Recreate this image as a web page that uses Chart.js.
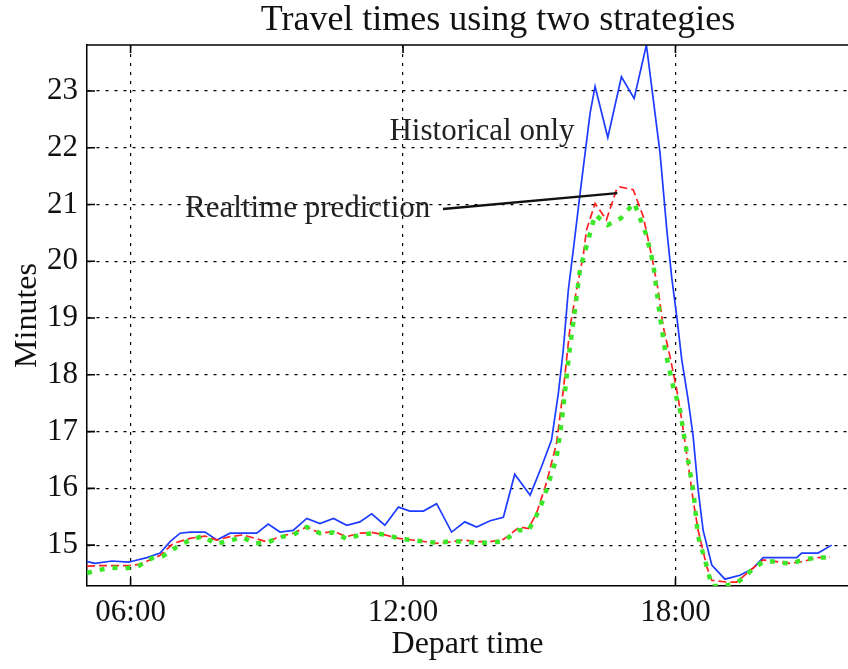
<!DOCTYPE html>
<html>
<head>
<meta charset="utf-8">
<title>Travel times using two strategies</title>
<script src="https://cdn.jsdelivr.net/npm/chart.js@4.4.1/dist/chart.umd.min.js"></script>
<style>
    html, body { margin: 0; padding: 0; background: #fff; }
    #travelChart { display: block; }
</style>
</head>
<body>
<canvas id="travelChart" width="848" height="669"></canvas>
<script>
// depart time in hours of the day, travel time in minutes
var historicalHours = [5.04, 5.22, 5.59, 5.95, 6.06, 6.36, 6.65, 6.87, 7.09, 7.31, 7.64, 7.90, 8.19, 8.78, 9.03, 9.29, 9.58, 9.88, 10.17, 10.47, 10.76, 11.05, 11.31, 11.60, 11.90, 12.15, 12.45, 12.74, 13.07, 13.36, 13.62, 13.92, 14.21, 14.46, 14.80, 15.05, 15.27, 15.42, 15.53, 15.64, 15.75, 15.90, 16.12, 16.23, 16.51, 16.81, 17.09, 17.36, 17.66, 17.81, 17.92, 18.03, 18.14, 18.28, 18.39, 18.50, 18.61, 18.80, 19.09, 19.42, 19.71, 19.93, 20.67, 20.78, 21.14, 21.44];
var historicalMinutes = [14.71, 14.68, 14.72, 14.70, 14.72, 14.78, 14.86, 15.06, 15.21, 15.23, 15.23, 15.09, 15.21, 15.21, 15.37, 15.23, 15.26, 15.47, 15.38, 15.47, 15.35, 15.41, 15.55, 15.35, 15.67, 15.60, 15.60, 15.73, 15.23, 15.41, 15.32, 15.43, 15.49, 16.25, 15.88, 16.38, 16.85, 17.67, 18.44, 19.49, 20.20, 21.20, 22.61, 23.08, 22.18, 23.25, 22.87, 23.81, 21.91, 20.55, 19.70, 19.02, 18.26, 17.56, 16.91, 15.97, 15.26, 14.65, 14.40, 14.47, 14.59, 14.78, 14.78, 14.86, 14.86, 15.00];

var realtimeHours = [5.04, 5.33, 5.95, 6.20, 6.65, 6.94, 7.31, 7.64, 7.90, 8.19, 8.48, 9.00, 9.29, 9.58, 9.88, 10.17, 10.47, 10.76, 11.05, 11.34, 11.60, 11.90, 12.20, 12.50, 12.74, 13.07, 13.33, 13.62, 13.92, 14.21, 14.57, 14.76, 14.94, 15.16, 15.38, 15.53, 15.68, 15.82, 15.97, 16.04, 16.23, 16.48, 16.70, 16.78, 17.07, 17.29, 17.37, 17.48, 17.62, 17.73, 17.88, 18.03, 18.14, 18.32, 18.39, 18.50, 18.69, 18.80, 19.13, 19.35, 19.64, 19.93, 20.23, 20.52, 20.81, 21.11, 21.40];
var realtimeMinutes = [14.63, 14.64, 14.64, 14.66, 14.82, 15.03, 15.12, 15.16, 15.09, 15.15, 15.18, 15.06, 15.15, 15.21, 15.32, 15.21, 15.24, 15.15, 15.21, 15.22, 15.18, 15.12, 15.09, 15.06, 15.03, 15.06, 15.09, 15.06, 15.06, 15.10, 15.32, 15.29, 15.56, 16.10, 16.79, 17.73, 18.85, 19.49, 20.10, 20.55, 21.02, 20.73, 21.26, 21.31, 21.26, 20.79, 20.49, 20.08, 19.49, 18.85, 18.32, 17.73, 17.20, 16.20, 15.79, 15.26, 14.62, 14.38, 14.35, 14.35, 14.55, 14.74, 14.71, 14.68, 14.71, 14.78, 14.79];

var bestHours = [5.04, 5.29, 5.59, 5.88, 6.17, 6.47, 6.72, 7.02, 7.31, 7.60, 7.86, 8.15, 8.45, 8.74, 9.00, 9.29, 9.58, 9.88, 10.17, 10.47, 10.76, 11.05, 11.34, 11.64, 11.93, 12.20, 12.50, 12.77, 13.07, 13.33, 13.62, 13.92, 14.21, 14.54, 14.76, 14.91, 15.09, 15.38, 15.49, 15.66, 15.79, 15.90, 16.04, 16.23, 16.51, 16.80, 17.09, 17.36, 17.51, 17.66, 17.77, 17.95, 18.10, 18.25, 18.39, 18.50, 18.65, 18.80, 19.09, 19.38, 19.68, 19.93, 20.23, 20.52, 20.81, 21.11, 21.40];
var bestMinutes = [14.51, 14.56, 14.60, 14.59, 14.63, 14.77, 14.81, 14.97, 15.09, 15.16, 15.02, 15.07, 15.14, 15.03, 15.04, 15.14, 15.18, 15.32, 15.21, 15.22, 15.11, 15.18, 15.21, 15.18, 15.11, 15.09, 15.06, 15.04, 15.07, 15.06, 15.04, 15.04, 15.07, 15.26, 15.26, 15.47, 15.80, 16.53, 17.14, 18.38, 19.17, 19.87, 20.26, 20.82, 20.64, 20.76, 21.03, 20.46, 19.96, 19.02, 18.44, 17.79, 17.38, 16.62, 15.97, 15.15, 14.74, 14.28, 14.28, 14.35, 14.56, 14.71, 14.71, 14.67, 14.74, 14.78, 14.78];

var hourTicks = [6, 12, 18];
var minuteTicks = [15, 16, 17, 18, 19, 20, 21, 22, 23];

var serif = "'Liberation Serif', 'Times New Roman', serif";
var ink = "#111";

function toPoints(hours, minutes) {
    return hours.map((h, i) => ({ x: h, y: minutes[i] }));
}

function clock(value) {
    var h = Math.floor(value);
    var m = Math.round((value - h) * 60);
    return String(h).padStart(2, "0") + ":" + String(m).padStart(2, "0");
}

// title, top frame line, inward tick marks and the two text labels
const figureExtras = {
    id: "figureExtras",
    afterDraw(chart) {
        const c = chart.ctx;
        const area = chart.chartArea;
        const xs = chart.scales.x;
        const ys = chart.scales.y;

        c.save();
        c.strokeStyle = "#000";
        c.lineWidth = 1.5;
        c.beginPath();
        c.moveTo(area.left, area.top);
        c.lineTo(area.right, area.top);
        c.stroke();

        c.lineWidth = 1.6;
        c.beginPath();
        minuteTicks.forEach((v) => {
            const y = ys.getPixelForValue(v);
            c.moveTo(area.left, y);
            c.lineTo(area.left + 8, y);
        });
        hourTicks.forEach((v) => {
            const x = xs.getPixelForValue(v);
            c.moveTo(x, area.bottom);
            c.lineTo(x, area.bottom - 8);
            c.moveTo(x, area.top);
            c.lineTo(x, area.top + 8);
        });
        c.stroke();

        // pointer from the label to the realtime curve
        c.lineWidth = 2.4;
        c.strokeStyle = "#111";
        c.beginPath();
        c.moveTo(xs.getPixelForValue(12.88), ys.getPixelForValue(20.92));
        c.lineTo(xs.getPixelForValue(16.72), ys.getPixelForValue(21.20));
        c.stroke();

        c.fillStyle = "#222";
        c.font = "31px " + serif;
        c.textAlign = "center";
        c.textBaseline = "middle";
        c.fillText("Historical only", xs.getPixelForValue(13.74), ys.getPixelForValue(22.28));
        c.fillText("Realtime prediction", xs.getPixelForValue(9.90), ys.getPixelForValue(20.92));

        c.fillStyle = ink;
        c.font = "36px " + serif;
        c.textBaseline = "alphabetic";
        c.fillText("Travel times using two strategies", 498, 30);
        c.restore();
    },
};

var ctx = document.getElementById("travelChart").getContext("2d");

var travelChart = new Chart(ctx, {
    type: "line",
    data: {
        datasets: [
            {
                label: "Historical only",
                data: toPoints(historicalHours, historicalMinutes),
                borderColor: "#1e3cff",
                borderWidth: 1.7,
                order: 2,
            },
            {
                label: "Realtime prediction",
                data: toPoints(realtimeHours, realtimeMinutes),
                borderColor: "#ff2020",
                borderWidth: 1.7,
                borderDash: [8, 4],
                order: 1,
            },
            {
                label: "Best",
                data: toPoints(bestHours, bestMinutes),
                borderColor: "#3ce628",
                borderWidth: 4.5,
                borderDash: [5, 8],
                order: 0,
            },
        ],
    },
    options: {
        responsive: false,
        animation: false,
        layout: { padding: { top: 45, right: 0, bottom: 0, left: 0 } },
        elements: {
            point: { radius: 0 },
            line: { tension: 0, fill: false },
        },
        plugins: {
            legend: { display: false },
            tooltip: { enabled: false },
            title: { display: false },
        },
        scales: {
            x: {
                type: "linear",
                min: 5.04,
                max: 21.8,
                afterBuildTicks: (scale) => {
                    scale.ticks = hourTicks.map((v) => ({ value: v }));
                },
                afterFit: (scale) => {
                    scale.height = 83;
                },
                grid: { color: "#000", lineWidth: 1.2, drawTicks: false },
                border: { color: "#000", width: 1.5, dash: [3, 6] },
                ticks: {
                    padding: 8,
                    color: ink,
                    font: { family: serif, size: 31 },
                    maxRotation: 0,
                    callback: (value) => clock(value),
                },
                title: {
                    display: true,
                    text: "Depart time",
                    color: ink,
                    font: { family: serif, size: 32 },
                    padding: { top: 0, bottom: 5 },
                },
            },
            y: {
                min: 14.28,
                max: 23.81,
                afterBuildTicks: (scale) => {
                    scale.ticks = minuteTicks.map((v) => ({ value: v }));
                },
                afterFit: (scale) => {
                    scale.width = 87;
                },
                grid: { color: "#000", lineWidth: 1.2, drawTicks: false },
                border: { color: "#000", width: 1.5, dash: [3, 6] },
                ticks: {
                    padding: 9,
                    color: ink,
                    font: { family: serif, size: 31 },
                },
                title: {
                    display: true,
                    text: "Minutes",
                    color: ink,
                    font: { family: serif, size: 32 },
                    padding: { top: 8, bottom: 0 },
                },
            },
        },
    },
    plugins: [figureExtras],
});
</script>
</body>
</html>
